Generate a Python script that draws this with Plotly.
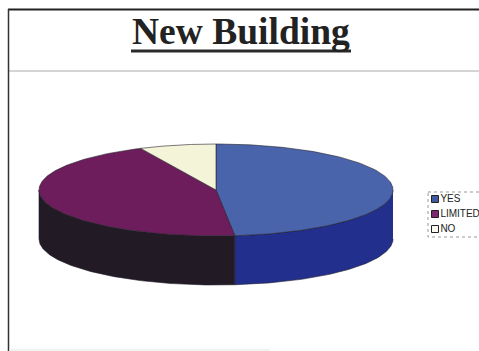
import numpy as np
import plotly.graph_objects as go

# Survey shares, in percent
categories = ["YES", "LIMITED", "NO"]
shares = [48.3, 44.7, 7.0]
top_colors = ["#4a64ab", "#6d1d5c", "#f4f4d8"]
side_colors = ["#232f8d", "#221a24", "#b8b8a0"]
swatch_colors = ["#3f5a9e", "#7a2a72", "#f8f8f0"]

# Disc geometry on a canvas measured in pixels
WIDTH, HEIGHT = 479, 351
CX, CY, RX, RY, DEPTH = 216, 190, 177, 46, 49

# Key placement
KEY_LEFT, KEY_TOP, KEY_BOTTOM = 428, 192, 237
KEY_ROWS = [199, 214, 229]


def rim(theta):
    """Point on the top ellipse; theta runs clockwise from twelve o'clock."""
    return CX + RX * np.sin(theta), CY - RY * np.cos(theta)


fig = go.Figure()
edges = np.radians(np.concatenate([[0], np.cumsum(shares)]) * 3.6)

# Outer wall, only where the disc's front half faces the viewer
for cat, a, b, color in zip(categories, edges[:-1], edges[1:], side_colors):
    lo, hi = max(a, np.pi / 2), min(b, 3 * np.pi / 2)
    if hi <= lo:
        continue
    t = np.linspace(lo, hi, 120)
    x, y = rim(t)
    fig.add_trace(go.Scatter(
        x=np.concatenate([x, x[::-1]]),
        y=np.concatenate([y, y[::-1] + DEPTH]),
        fill="toself", fillcolor=color, mode="lines",
        line=dict(color="#1c1c2a", width=0.6),
        hoverinfo="skip", showlegend=False,
    ))

# Top face wedges
for cat, a, b, color in zip(categories, edges[:-1], edges[1:], top_colors):
    t = np.linspace(a, b, 160)
    x, y = rim(t)
    fig.add_trace(go.Scatter(
        x=np.concatenate([[CX], x, [CX]]),
        y=np.concatenate([[CY], y, [CY]]),
        fill="toself", fillcolor=color, mode="lines",
        line=dict(color="#25222c", width=0.6),
        hoverinfo="skip", showlegend=False,
    ))

# Key swatches and their captions
fig.add_trace(go.Scatter(
    x=[KEY_LEFT + 7] * len(categories), y=KEY_ROWS, mode="markers+text",
    text=categories, textposition="middle right",
    textfont=dict(family="Liberation Sans", size=10, color="#222222"),
    marker=dict(symbol="square", size=7, color=swatch_colors,
                line=dict(color="#222222", width=1)),
    hoverinfo="skip", showlegend=False, cliponaxis=False,
))

fig.update_layout(
    width=WIDTH, height=HEIGHT,
    margin=dict(l=0, r=0, t=0, b=0),
    paper_bgcolor="white", plot_bgcolor="white",
    xaxis=dict(range=[0, WIDTH], visible=False, fixedrange=True),
    yaxis=dict(range=[HEIGHT, 0], visible=False, fixedrange=True),
    showlegend=False,
    annotations=[dict(
        text="<b>New Building</b>", x=241, y=31.5, xref="x", yref="y",
        showarrow=False,
        font=dict(family="Liberation Serif", size=37.5, color="#222222"),
    )],
    shapes=[
        dict(type="line", x0=131, x1=351, y0=51, y1=51,
             line=dict(color="#2a2a2a", width=3)),
        dict(type="line", x0=9, x1=479, y0=71, y1=71,
             line=dict(color="#aaaaaa", width=1)),
        dict(type="line", x0=8, x1=479, y0=9.5, y1=9.5,
             line=dict(color="#222222", width=2)),
        dict(type="line", x0=8.5, x1=8.5, y0=9, y1=351,
             line=dict(color="#333333", width=1.5)),
        dict(type="line", x0=9, x1=270, y0=350, y1=350,
             line=dict(color="#e6e6e6", width=1)),
        dict(type="rect", x0=KEY_LEFT, x1=481, y0=KEY_TOP, y1=KEY_BOTTOM,
             line=dict(color="#999999", width=1, dash="dot")),
    ],
)

fig.write_html("out.html")
